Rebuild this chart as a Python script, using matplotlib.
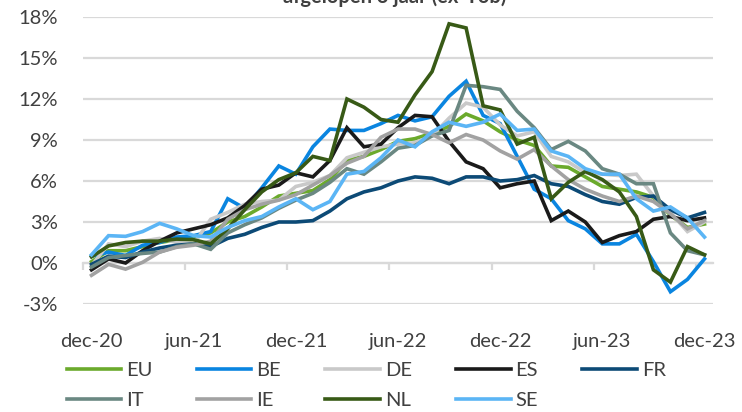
import matplotlib
matplotlib.use('Agg')
import matplotlib.pyplot as plt
import numpy as np

plt.rcParams['font.family'] = ['Lato', 'DejaVu Sans']

# monthly food inflation (% y/y), dec-20 .. dec-23
months = ['dec-20', 'jan-21', 'feb-21', 'mar-21', 'apr-21', 'mei-21', 'jun-21', 'jul-21',
          'aug-21', 'sep-21', 'okt-21', 'nov-21', 'dec-21', 'jan-22', 'feb-22', 'mrt-22',
          'apr-22', 'mei-22', 'jun-22', 'jul-22', 'aug-22', 'sep-22', 'okt-22', 'nov-22',
          'dec-22', 'jan-23', 'feb-23', 'mrt-23', 'apr-23', 'mei-23', 'jun-23', 'jul-23',
          'aug-23', 'sep-23', 'okt-23', 'nov-23', 'dec-23']
tick_labels = ['dec-20', 'jun-21', 'dec-21', 'jun-22', 'dec-22', 'jun-23', 'dec-23']

eu = [0.1, 0.9, 0.9, 1.2, 1.5, 1.7, 1.9, 2.2, 3.0, 3.4, 4.1, 4.9, 5.1, 5.3, 6.1, 7.5, 7.8, 8.3, 8.9,
      9.1, 9.5, 10.0, 10.9, 10.4, 9.6, 9.0, 8.6, 7.1, 7.0, 6.3, 5.6, 5.4, 5.2, 4.8, 3.5, 2.6, 2.85]
be = [0.5, 0.8, 0.55, 1.3, 1.5, 1.9, 2.0, 2.3, 4.7, 4.0, 5.5, 7.1, 6.5, 8.5, 9.8, 9.7, 9.7, 10.2, 10.8,
      10.4, 10.7, 12.2, 13.3, 10.8, 10.2, 7.8, 5.4, 4.7, 3.1, 2.5, 1.4, 1.4, 2.1, 0.1, -2.1, -1.2, 0.3]
de = [-0.2, 1.4, 1.2, 1.6, 1.8, 1.5, 1.4, 3.2, 3.7, 4.3, 4.5, 4.6, 5.6, 5.9, 6.4, 7.7, 8.1, 8.5, 8.7,
      8.8, 9.3, 10.6, 11.7, 11.4, 10.1, 9.3, 9.6, 7.8, 7.4, 6.6, 6.5, 6.4, 6.5, 4.9, 3.7, 2.3, 3.0]
es = [-0.5, 0.3, 0.0, 0.9, 1.6, 2.2, 2.5, 2.8, 3.3, 4.2, 5.4, 5.7, 6.6, 6.3, 7.5, 9.9, 8.5, 8.7, 9.9,
      10.8, 10.7, 8.9, 7.4, 6.9, 5.5, 5.8, 6.0, 3.1, 3.8, 3.0, 1.5, 2.0, 2.3, 3.2, 3.4, 3.1, 3.3]
fr = [-0.1, 0.5, 0.4, 0.8, 1.1, 1.3, 1.4, 1.2, 1.8, 2.1, 2.6, 3.0, 3.0, 3.1, 3.8, 4.7, 5.2, 5.5, 6.0,
      6.3, 6.2, 5.8, 6.3, 6.3, 6.0, 6.1, 6.4, 5.8, 5.6, 5.0, 4.5, 4.3, 4.8, 4.9, 3.9, 3.3, 3.7]
it = [-0.3, 0.4, 0.55, 0.7, 0.8, 1.2, 1.4, 1.0, 2.2, 2.8, 3.3, 4.0, 4.6, 5.1, 5.9, 6.9, 6.5, 7.4, 8.4,
      8.6, 9.3, 9.7, 13.0, 12.9, 12.7, 11.1, 9.9, 8.3, 8.9, 8.2, 6.9, 6.5, 5.8, 5.8, 2.2, 0.9, 0.6]
ie = [-0.9, -0.1, -0.45, 0.05, 0.8, 1.15, 1.3, 1.6, 3.2, 3.9, 4.3, 4.6, 5.0, 5.7, 6.4, 7.3, 7.8, 9.2,
      9.8, 9.8, 9.4, 8.8, 9.4, 9.0, 8.2, 7.6, 8.3, 7.1, 6.1, 5.4, 4.9, 4.5, 4.9, 4.5, 3.6, 2.5, 3.1]
nl = [0.45, 1.25, 1.5, 1.6, 1.6, 1.75, 1.7, 1.4, 2.5, 3.9, 5.2, 6.1, 6.6, 7.8, 7.5, 12.0, 11.4, 10.5,
      10.3, 12.3, 14.0, 17.5, 17.2, 11.5, 11.2, 8.7, 9.2, 4.7, 5.9, 6.7, 6.1, 5.2, 3.4, -0.5, -1.4, 1.2, 0.6]
se = [0.6, 2.0, 1.95, 2.3, 2.9, 2.5, 2.0, 1.9, 2.6, 3.1, 3.4, 4.1, 4.7, 3.9, 4.5, 6.5, 6.7, 7.7, 9.0,
      8.5, 9.6, 10.3, 10.0, 10.3, 10.9, 9.7, 9.8, 8.2, 7.8, 6.9, 6.5, 6.5, 4.7, 3.8, 4.1, 3.3, 1.9]

series = [('EU', eu, '#6BAA2C'), ('BE', be, '#0A85E0'), ('DE', de, '#C9C9C9'),
          ('ES', es, '#1A1A1A'), ('FR', fr, '#0C4A76'), ('IT', it, '#6A8882'),
          ('IE', ie, '#A2A2A2'), ('NL', nl, '#385A16'), ('SE', se, '#5BB5F5')]

txt = '#404040'
grid = '#D9D9D9'

fig = plt.figure(figsize=(7.42, 4.12), dpi=100)
ax = fig.add_axes([83/742, 1-304/412, 630/742, 287/412])

x = np.arange(len(months))
lines = {}
for name, vals, col in series:
    lines[name], = ax.plot(x, vals, color=col, lw=2.6, label=name, solid_joinstyle='miter')

ax.set_xlim(-0.5, len(months) - 0.5)
ax.set_ylim(-3, 18)
ax.set_yticks(np.arange(-3, 19, 3))
ax.set_yticklabels(['%d%%' % v for v in np.arange(-3, 19, 3)])
ax.set_xticks(x[::6])
ax.set_xticklabels(tick_labels)
ax.tick_params(axis='both', length=0, labelsize=14.5, labelcolor=txt)
ax.tick_params(axis='y', pad=18)
ax.tick_params(axis='x', pad=21)
ax.grid(axis='y', color=grid, lw=1.6)
ax.set_axisbelow(True)
for s in ax.spines.values():
    s.set_visible(False)

# category axis crossing at 0 with tick marks between categories
sec = ax.secondary_xaxis(0, transform=ax.transData)
sec.set_xticks(np.arange(-0.5, len(months), 6))
sec.tick_params(axis='x', length=5, width=1.6, color=grid, labelbottom=False)
sec.spines['bottom'].set_color(grid)
sec.spines['bottom'].set_linewidth(1.6)

# title is partly outside the canvas, as in the source image
fig.text(395/742, 1-3/412, 'afgelopen 3 jaar (ex-Tob)', ha='center', va='baseline',
         fontsize=14.5, fontweight='bold', color=txt)

order = ['EU', 'IT', 'BE', 'IE', 'DE', 'NL', 'ES', 'SE', 'FR']
fig.legend([lines[n] for n in order], order, ncol=5, loc='upper left',
           bbox_to_anchor=(67/742, 1-362/412), frameon=False, fontsize=14.5,
           labelcolor=txt, handlelength=2.7, handletextpad=0.25, columnspacing=2.2,
           labelspacing=0.62, borderpad=0, borderaxespad=0)

fig.savefig('out.png', dpi=100)
